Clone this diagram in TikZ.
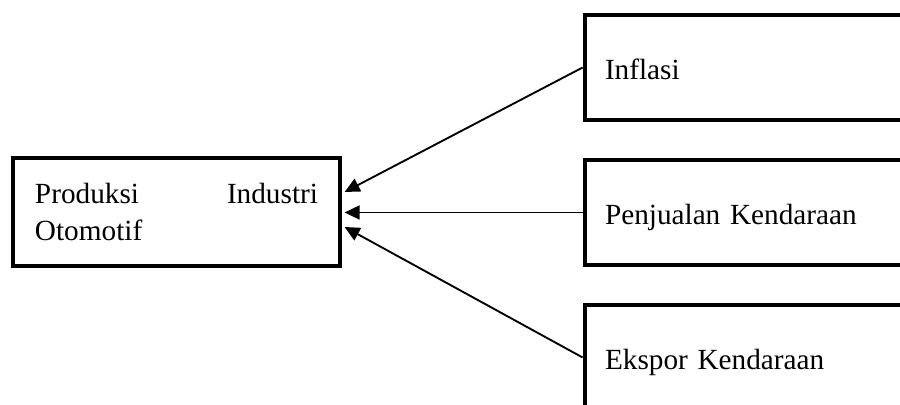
\documentclass[tikz,border=0pt]{standalone}
\usepackage{fontspec}
\setmainfont{Liberation Serif}
\usetikzlibrary{arrows.meta}

\begin{document}
\begin{tikzpicture}[x=0.4pt,y=0.4pt]

 \tikzset{
      boxstl/.style={draw,line width=1.9pt,rectangle,
        font=\fontsize{11.7}{14.7}\selectfont},
      varstl/.style={boxstl,minimum height=42pt,text width=122pt,
        inner xsep=8pt,align=left,text height=10pt,text depth=0pt},
      arrstl/.style={line width=0.75pt,-{Triangle[length=6pt,width=5.6pt]}},
    }

 %% frame of the picture, the right boxes run past it.
 \useasboundingbox (0,0) rectangle (900,405);
 \clip (0,0) rectangle (900,405);

 \node[boxstl,text width=113.2pt,inner xsep=8.8pt,minimum height=43.2pt,
       align=left] (produksi) at (176.5,193)
       {Produksi\hfill Industri\\Otomotif};

 \node[varstl] (inflasi) at (757.5,337.5) {Inflasi};
 \node[varstl] (penjualan) at (757.5,192.5) {Penjualan Kendaraan};
 \node[varstl] (ekspor) at (757.5,47.5) {Ekspor Kendaraan};

 % tips touch the outer side of the thick line.
 \draw[arrstl] (inflasi.west) -- ([xshift=0.9pt,yshift=8pt]produksi.east);
 \draw[arrstl] (penjualan.west) -- ([xshift=0.9pt]produksi.east |- penjualan.west);
 \draw[arrstl] (ekspor.west) -- ([xshift=0.9pt,yshift=-6pt]produksi.east);

\end{tikzpicture}
\end{document}
